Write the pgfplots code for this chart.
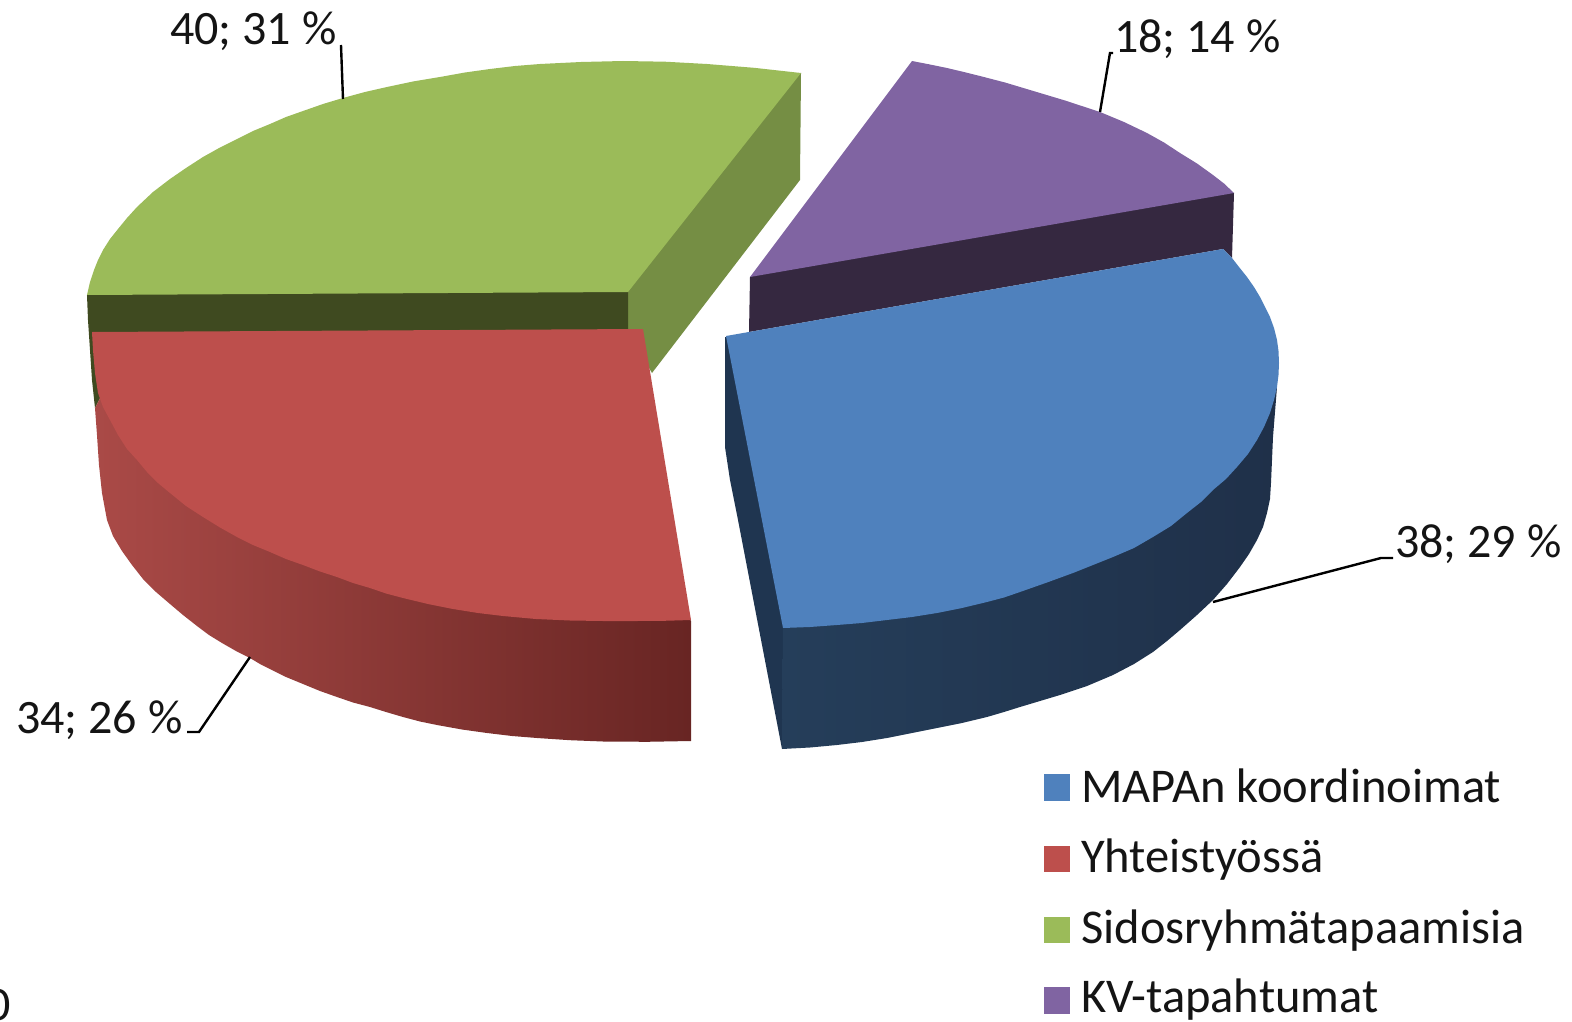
\documentclass[border=0pt]{standalone}
\usepackage{pgfplots}
\pgfplotsset{compat=1.18}
\usepackage{fontspec}
\setmainfont{Carlito}
\definecolor{cBlue}{HTML}{4F81BD}
\definecolor{cRed}{HTML}{BD4F4C}
\definecolor{cGreen}{HTML}{9BBB59}
\definecolor{cPurple}{HTML}{8064A2}
\definecolor{cDarkPurple}{HTML}{352840}
\definecolor{cDarkGreen}{HTML}{3F4A20}
\definecolor{cSideGreen}{HTML}{758E44}
\definecolor{cInnerBlue}{HTML}{1F3550}
\tikzset{lab/.style={font=\fontsize{48}{52}\selectfont,inner sep=0pt,anchor=base west,text=black!92},
         leg/.style={font=\fontsize{48.5}{52}\selectfont,inner sep=0pt,anchor=base west,text=black!92}}
\begin{document}
\begin{tikzpicture}
\path[use as bounding box,clip] (0,0) rectangle (1572pt,1022pt);
\begin{axis}[at={(0,0)},anchor=south west,scale only axis,width=1572pt,height=1022pt,
  xmin=0,xmax=1572,ymin=0,ymax=1022,y dir=reverse,hide axis,clip=false,no markers]
% Sidosryhmatapaamisia: cut faces, top
\addplot[draw=none,fill=cSideGreen] coordinates {(801,73)(800,180)(652,373)(628,332)(620,290)(780,85)} --cycle;
\addplot[draw=none,fill=cDarkGreen] coordinates {(87,295)(120,290)(620,288)(628,292)(628,340)(110,340)(100,398)(95,408)(92,380)(90,350)(88,320)} --cycle;
\addplot[draw=none,fill=cGreen] coordinates {(87,295)(90,282)(94,270)(98,260)(103,250)(110,239)(118,229)(127,218)(137,207)(153,192)(170,179)(186,168)(203,157)(220,147.5)(237,139)(253,131)(270,124)(286,117)(303,111)(323,104)(343,98)(365,92)(387,87)(413,81.5)(440,77)(465,72.5)(490,69)(515,66)(540,64)(581,62)(623,61)(665,61.7)(707,64)(754,67.8)(801,73)(628,292)} --cycle;
% Yhteistyossa: wall, top
\addplot[draw=none,left color={rgb,255:red,170;green,74;blue,71},middle color={rgb,255:red,138;green,56;blue,54},right color={rgb,255:red,104;green,37;blue,35}] coordinates {(95,408)(97,435)(99,465)(102,493)(107,520)(113,536)(122,551)(132,565)(143,579)(156,592)(170,604)(183,615)(197,626)(209,635)(222,643)(236,651)(250,658)(260,664)(270,669)(286,677)(303,684)(320,691)(337,697)(353,702.5)(370,707)(386,712)(403,717)(420,721.5)(437,725)(462,729.5)(487,733)(512,736)(537,738)(570,740.2)(603,741.5)(647,741.8)(691,741)(691,621)(687,615)(637,615)(503,605)(403,585)(303,550)(203,500)(130,440)(100,398)} --cycle;
\addplot[draw=none,fill=cRed] coordinates {(92,332)(643,329)(691,620)(664,620.8)(637,621)(603,621)(570,620.5)(536,619)(503,616)(478,613)(453,609)(428,604)(403,598)(386,593.5)(370,588)(353,583)(337,577)(320,571.5)(303,565)(286,559)(270,552)(253,545)(237,537)(220,527.5)(203,517)(186,506)(170,493)(158,483)(147,472)(137,460)(127,449)(118,435)(110,420)(103,407)(98,393)(95,373)(93,350)} --cycle;
% KV-tapahtumat: cut face, top
\addplot[draw=none,fill=cDarkPurple] coordinates {(750,277)(770,268)(1215,192)(1234,193)(1232,258)(1223,249)(749,332)} --cycle;
\addplot[draw=none,fill=cPurple] coordinates {(750,277)(912,61)(929,64.3)(947,68)(963,71.8)(980,76)(1005,82.5)(1030,90)(1065,100.5)(1100,112)(1124,122)(1147,133)(1164,142.5)(1180,153)(1197,163.5)(1213,175)(1224,183.5)(1234,193)} --cycle;
% MAPAn koordinoimat: inner face, wall, top
\addplot[draw=none,fill=cInnerBlue] coordinates {(725,337)(725,447)(730,480)(738,520)(782,749)(790,640)(740,340)} --cycle;
\addplot[draw=none,left color={rgb,255:red,37;green,62;blue,90},middle color={rgb,255:red,31;green,48;blue,73},right color={rgb,255:red,31;green,48;blue,73}] coordinates {(783,628)(782,749)(810,747.5)(837,745)(862,742)(887,738)(912,733)(937,728)(962,723)(987,717)(1004,712)(1020,707)(1040,701)(1060,695)(1087,686)(1113,675)(1134,664)(1153,652)(1167,641)(1180,630)(1197,615)(1213,600)(1227,584)(1240,567)(1249,554)(1257,540)(1263,527)(1267,513)(1270,499)(1271,483)(1272,460)(1273,437)(1275,412)(1277,387)(1270,400)(1240,450)(1187,500)(1113,545)(1020,580)(887,610)(790,618)} --cycle;
\addplot[draw=none,fill=cBlue] coordinates {(726,336)(1223,249)(1232,258)(1239,267)(1247,277)(1254,287)(1260,297)(1265,307)(1270,317)(1274,328)(1277,340)(1278.5,351)(1279,363)(1278.5,375)(1277,387)(1274,400)(1270,413)(1264,427)(1257,440)(1248,454)(1237,467)(1226,479)(1213,490)(1201,502)(1187,513)(1171,526)(1153,537)(1134,548)(1113,557)(1093,565)(1073,573)(1047,582.5)(1020,592)(1004,597.5)(987,602)(962,608)(937,613)(912,617)(887,620)(862,623)(837,625)(810,627)(783,628)} --cycle;
% leader lines
\addplot[black,line width=2.4pt] coordinates {(341,45)(343,99)};
\addplot[black,line width=2.4pt] coordinates {(1113,53)(1110,53)(1100,112)};
\addplot[black,line width=2.4pt] coordinates {(1213,602)(1381,558)(1393,558)};
\addplot[black,line width=2.4pt] coordinates {(187,732)(199,732)(250,657)};
% legend swatches
\addplot[draw=none,fill=cBlue] coordinates {(1044,774)(1070,774)(1070,801)(1044,801)} --cycle;
\addplot[draw=none,fill=cRed] coordinates {(1044,846)(1070,846)(1070,872)(1044,872)} --cycle;
\addplot[draw=none,fill=cGreen] coordinates {(1044,917)(1070,917)(1070,943)(1044,943)} --cycle;
\addplot[draw=none,fill=cPurple] coordinates {(1044,987)(1070,987)(1070,1014)(1044,1014)} --cycle;
% texts
\node[lab] at (axis cs:170,45) {40; 31 \%};
\node[lab] at (axis cs:1114,53) {18; 14 \%};
\node[lab] at (axis cs:1395,557) {38; 29 \%};
\node[lab] at (axis cs:16,733) {34; 26 \%};
\node[leg] at (axis cs:1081,802) {MAPAn koordinoimat};
\node[leg] at (axis cs:1081,872) {Yhteistyössä};
\node[leg] at (axis cs:1081,943) {Sidosryhmätapaamisia};
\node[leg] at (axis cs:1081,1012) {KV-tapahtumat};
\node[lab] at (axis cs:-14,1020) {0};
\end{axis}
\end{tikzpicture}
\end{document}
